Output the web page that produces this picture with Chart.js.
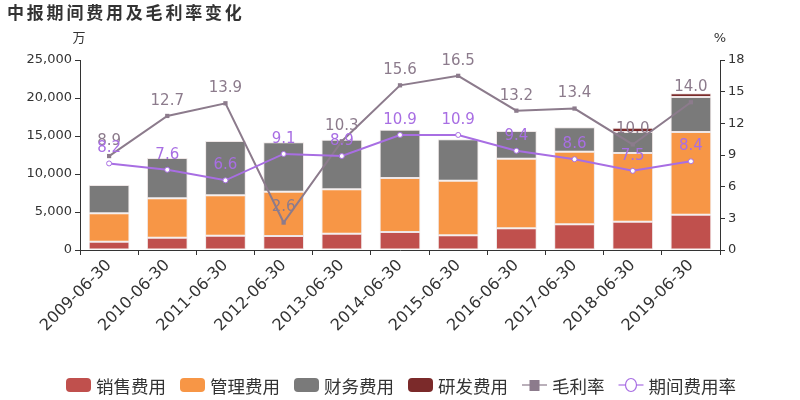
<!DOCTYPE html>
<html>
<head>
<meta charset="utf-8">
<script src="https://cdn.jsdelivr.net/npm/chart.js@4.4.1/dist/chart.umd.min.js"></script>
<style>
  html, body { margin: 0; padding: 0; background: #fff; }
  #wrap { width: 800px; height: 400px; position: relative; }
</style>
</head>
<body>
<div id="wrap"><canvas id="costChart" width="800" height="400"></canvas></div>
<script>
    // 数据 (单位: 万 / %)
    const categories = ['2009-06-30', '2010-06-30', '2011-06-30', '2012-06-30', '2013-06-30', '2014-06-30',
                        '2015-06-30', '2016-06-30', '2017-06-30', '2018-06-30', '2019-06-30'];
    const salesCost   = [1100, 1620, 1890, 1840, 2150, 2370, 1930, 2850, 3380, 3730, 4650];
    const adminCost   = [3720, 5180, 5300, 5840, 5830, 7100, 7190, 9170, 9560, 9030, 10880];
    const financeCost = [3730, 5300, 7150, 6490, 6540, 6360, 5440, 3640, 3200, 2770, 4600];
    const rdCost      = [null, null, null, null, null, null, null, null, null, 560, 480];
    const grossMargin = [8.9, 12.7, 13.9, 2.6, 10.3, 15.6, 16.5, 13.2, 13.4, 10.0, 14.0];
    const expenseRate = [8.2, 7.6, 6.6, 9.1, 8.9, 10.9, 10.9, 9.4, 8.6, 7.5, 8.4];
    const leftTicks  = [0, 5000, 10000, 15000, 20000, 25000];
    const rightTicks = [0, 3, 6, 9, 12, 15, 18];

    const FONT = '"DejaVu Sans", "Noto Sans CJK SC", sans-serif';
    const TEXT = '#333333';
    const C_SALES = '#c0504d', C_ADMIN = '#f79646', C_FIN = '#7a7a7a', C_RD = '#7b2a2a';
    const C_GROSS = '#8c7b8c', C_RATE = '#a86ee3';

    // 标题, 单位, 数据标签, 图例
    const decorPlugin = {
        id: 'decor',
        afterDatasetsDraw(chart) {
            const ctx = chart.ctx;
            ctx.save();
            // 数据标签
            ctx.font = '15px ' + FONT;
            ctx.textAlign = 'center';
            ctx.textBaseline = 'middle';
            chart.data.datasets.forEach((ds, i) => {
                if (ds.type !== 'line') return;
                const meta = chart.getDatasetMeta(i);
                ctx.fillStyle = ds.borderColor;
                meta.data.forEach((pt, j) => {
                    ctx.fillText(ds.data[j].toFixed(1), pt.x, pt.y - 15);
                });
            });
            ctx.restore();
        },
        afterDraw(chart) {
            const ctx = chart.ctx;
            const area = chart.chartArea;
            ctx.save();
            // 标题
            ctx.fillStyle = TEXT;
            ctx.font = 'bold 17px "Noto Sans CJK SC", sans-serif';
            ctx.textBaseline = 'middle';
            ctx.textAlign = 'left';
            const title = '中报期间费用及毛利率变化';
            for (let k = 0; k < title.length; k++) {
                ctx.fillText(title[k], 7 + k * 19.8, 13);
            }
            // 单位
            ctx.font = '13px ' + FONT;
            ctx.textAlign = 'center';
            ctx.fillText('万', area.left - 1, 39);
            ctx.fillText('%', area.right, 39);

            // 图例
            const items = [
                { label: '销售费用', kind: 'box', color: C_SALES },
                { label: '管理费用', kind: 'box', color: C_ADMIN },
                { label: '财务费用', kind: 'box', color: C_FIN },
                { label: '研发费用', kind: 'box', color: C_RD },
                { label: '毛利率', kind: 'rect', color: C_GROSS },
                { label: '期间费用率', kind: 'circle', color: C_RATE }
            ];
            ctx.font = '17.5px "Noto Sans CJK SC", sans-serif';
            const symW = 25, gap = 5, itemGap = 14;
            let total = 0;
            items.forEach((it, k) => {
                it.w = symW + gap + ctx.measureText(it.label).width;
                total += it.w + (k ? itemGap : 0);
            });
            let x = 401 - total / 2;
            const y = 385;
            items.forEach(it => {
                if (it.kind === 'box') {
                    ctx.fillStyle = it.color;
                    ctx.beginPath();
                    ctx.roundRect(x, y - 7, symW, 14, 4);
                    ctx.fill();
                } else {
                    ctx.strokeStyle = it.color;
                    ctx.globalAlpha = 0.6;
                    ctx.lineWidth = 2;
                    ctx.beginPath();
                    ctx.moveTo(x, y);
                    ctx.lineTo(x + symW, y);
                    ctx.stroke();
                    ctx.globalAlpha = 1;
                    if (it.kind === 'rect') {
                        ctx.fillStyle = it.color;
                        ctx.fillRect(x + symW / 2 - 5, y - 5, 10, 11);
                    } else {
                        ctx.fillStyle = '#fff';
                        ctx.lineWidth = 1.2;
                        ctx.beginPath();
                        ctx.ellipse(x + symW / 2, y, 5.5, 6.5, 0, 0, Math.PI * 2);
                        ctx.fill();
                        ctx.stroke();
                    }
                }
                ctx.fillStyle = TEXT;
                ctx.textAlign = 'left';
                ctx.textBaseline = 'middle';
                ctx.fillText(it.label, x + symW + gap, y + 1);
                x += it.w + itemGap;
            });
            ctx.restore();
        }
    };

    function barSet(label, data, color) {
        return {
            type: 'bar',
            label: label,
            data: data,
            backgroundColor: color,
            borderColor: 'rgba(235,225,225,0.8)',
            borderWidth: 1,
            borderSkipped: false,
            stack: 'cost',
            yAxisID: 'y',
            order: 3,
            barPercentage: 0.7,
            categoryPercentage: 1
        };
    }

    function createChart() {
        const ctx = document.getElementById('costChart').getContext('2d');
        const chartConfig = {
            data: {
                labels: categories,
                datasets: [
                    barSet('销售费用', salesCost, C_SALES),
                    barSet('管理费用', adminCost, C_ADMIN),
                    barSet('财务费用', financeCost, C_FIN),
                    barSet('研发费用', rdCost, C_RD),
                    {
                        type: 'line',
                        label: '毛利率',
                        data: grossMargin,
                        yAxisID: 'y1',
                        borderColor: C_GROSS,
                        backgroundColor: C_GROSS,
                        borderWidth: 2,
                        pointStyle: 'rect',
                        pointRadius: 3,
                        pointBorderWidth: 0,
                        tension: 0,
                        order: 2
                    },
                    {
                        type: 'line',
                        label: '期间费用率',
                        data: expenseRate,
                        yAxisID: 'y1',
                        borderColor: C_RATE,
                        backgroundColor: '#ffffff',
                        pointBackgroundColor: '#ffffff',
                        pointBorderColor: C_RATE,
                        borderWidth: 2,
                        pointRadius: 2.5,
                        pointBorderWidth: 1,
                        tension: 0,
                        order: 1
                    }
                ]
            },
            options: {
                responsive: false,
                animation: false,
                layout: { padding: { top: 60, bottom: 0, left: 0, right: 0 } },
                plugins: {
                    legend: { display: false },
                    title: { display: false },
                    tooltip: { enabled: false }
                },
                scales: {
                    x: {
                        stacked: true,
                        afterFit: s => { s.height = 150; },
                        border: { color: TEXT, width: 1 },
                        grid: { drawOnChartArea: false, drawTicks: true, tickLength: 5, color: TEXT, offset: true },
                        ticks: {
                            color: TEXT, font: { size: 16, family: FONT },
                            minRotation: 45, maxRotation: 45, padding: 1, autoSkip: false
                        }
                    },
                    y: {
                        position: 'left',
                        stacked: true,
                        min: leftTicks[0],
                        max: leftTicks[leftTicks.length - 1],
                        afterFit: s => { s.width = 80; },
                        afterBuildTicks: s => { s.ticks = leftTicks.map(v => ({ value: v })); },
                        border: { color: TEXT, width: 1 },
                        grid: { drawOnChartArea: false, drawTicks: true, tickLength: 5, color: TEXT },
                        ticks: {
                            color: TEXT, font: { size: 13, family: FONT }, padding: 3,
                            callback: v => v.toLocaleString('en-US')
                        }
                    },
                    y1: {
                        position: 'right',
                        min: rightTicks[0],
                        max: rightTicks[rightTicks.length - 1],
                        afterFit: s => { s.width = 80; },
                        afterBuildTicks: s => { s.ticks = rightTicks.map(v => ({ value: v })); },
                        border: { color: TEXT, width: 1 },
                        grid: { drawOnChartArea: false, drawTicks: true, tickLength: 5, color: TEXT },
                        ticks: { color: TEXT, font: { size: 13, family: FONT }, padding: 3 }
                    }
                }
            },
            plugins: [decorPlugin]
        };
        window.costChart = new Chart(ctx, chartConfig);
    }

    window.addEventListener('load', createChart);
</script>
</body>
</html>
